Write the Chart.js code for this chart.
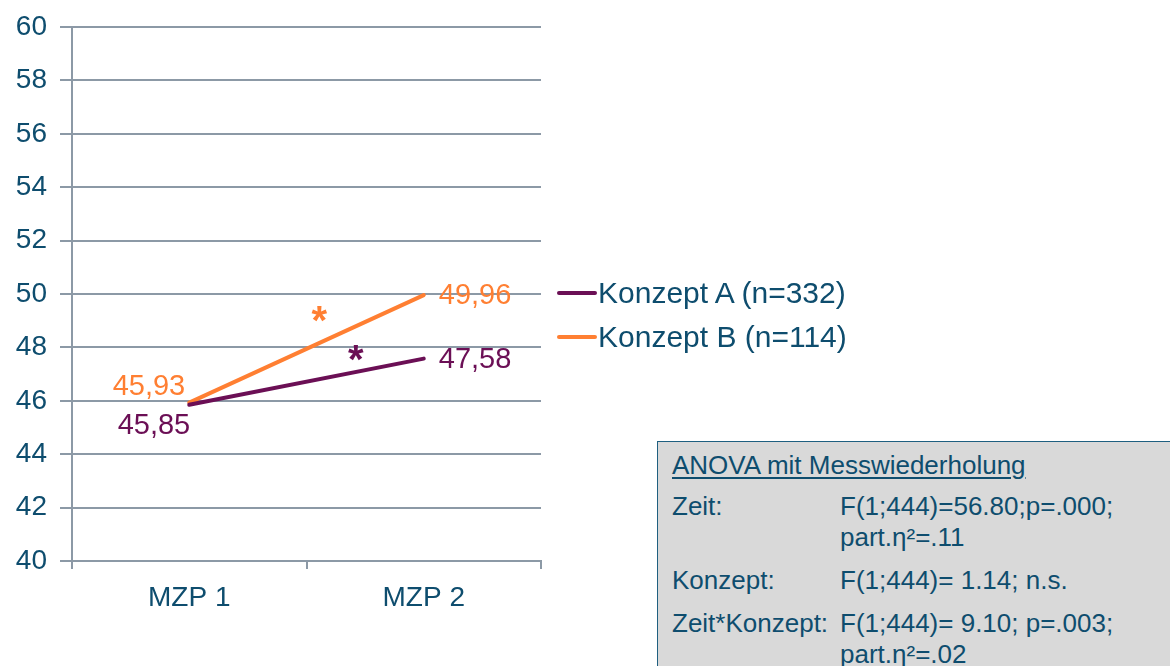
<!DOCTYPE html>
<html>
<head>
<meta charset="utf-8">
<script src="https://cdn.jsdelivr.net/npm/chart.js@4/dist/chart.umd.min.js"></script>
<style>
    html, body { margin: 0; padding: 0; background: #fff; }
    body { width: 1170px; height: 666px; position: relative; overflow: hidden; font-family: "Liberation Sans", Arial, sans-serif; }
    #wrap { position: absolute; left: 0; top: 0; width: 1170px; height: 666px; }
    .legend { position: absolute; left: 557px; color: #0e4d6e; font-size: 30px; line-height: 32px; white-space: nowrap; }
    .legend i { display: inline-block; width: 40px; height: 4px; border-radius: 2px; vertical-align: middle; margin-right: 1px; position: relative; top: -2px; }
    .anova { position: absolute; left: 657px; top: 441px; width: 530px; height: 240px; background: #d9d9d9; border: 1.5px solid #1f5f80; box-sizing: border-box; color: #0e4d6e; font-size: 26px; }
    .anova .t { position: absolute; left: 14px; top: 8px; text-decoration: underline; text-underline-offset: 3px; }
    .anova .r { position: absolute; left: 14px; line-height: 31px; }
    .anova .v { position: absolute; left: 182px; line-height: 31px; }
</style>
</head>
<body>
<div id="wrap"><canvas id="c" width="1170" height="666"></canvas></div>
<div id="legend"></div>
<div class="anova">
    <div class="t">ANOVA mit Messwiederholung</div>
    <div class="r" style="top:49px">Zeit:</div>
    <div class="v" style="top:49px">F(1;444)=56.80;p=.000;<br>part.η²=.11</div>
    <div class="r" style="top:123px">Konzept:</div>
    <div class="v" style="top:123px">F(1;444)= 1.14; n.s.</div>
    <div class="r" style="top:166px">Zeit*Konzept:</div>
    <div class="v" style="top:166px">F(1;444)= 9.10; p=.003;<br>part.η²=.02</div>
</div>
<script>
    var categories = ['MZP 1', 'MZP 2'];
    var seriesNames = ['Konzept A (n=332)', 'Konzept B (n=114)'];
    var konzeptA = [45.85, 47.58];
    var konzeptB = [45.93, 49.96];
    var colors = ['#6b0f55', '#ff7f32'];
    var yTicks = [40, 42, 44, 46, 48, 50, 52, 54, 56, 58, 60];

    var textBlue = '#0e4d6e';
    var gridGray = '#8c99a6';
    var font = '"Liberation Sans", Arial, sans-serif';

    function fmt(v) { return v.toFixed(2).replace('.', ','); }

    // value labels and significance stars
    var labelPlugin = {
        id: 'labels',
        afterDatasetsDraw: function (chart) {
            var ctx = chart.ctx;
            var xs = chart.scales.x, ys = chart.scales.y;
            ctx.save();
            ctx.font = '29px ' + font;
            ctx.textBaseline = 'middle';

            var x0 = xs.getPixelForValue(0), x1 = xs.getPixelForValue(1);
            // first point labels
            ctx.textAlign = 'right';
            ctx.fillStyle = colors[1];
            ctx.fillText(fmt(konzeptB[0]), x0 - 4, ys.getPixelForValue(konzeptB[0]) - 16);
            ctx.fillStyle = colors[0];
            ctx.fillText(fmt(konzeptA[0]), x0 + 1, ys.getPixelForValue(konzeptA[0]) + 21);
            // second point labels
            ctx.textAlign = 'left';
            ctx.fillStyle = colors[1];
            ctx.fillText(fmt(konzeptB[1]), x1 + 15, ys.getPixelForValue(konzeptB[1]) + 1);
            ctx.fillStyle = colors[0];
            ctx.fillText(fmt(konzeptA[1]), x1 + 15, ys.getPixelForValue(konzeptA[1]) + 1);

            // stars
            ctx.textAlign = 'center';
            ctx.font = 'bold 40px ' + font;
            ctx.fillStyle = colors[1];
            ctx.fillText('*', x0 + (x1 - x0) * 0.555, ys.getPixelForValue(48.6) - 8);
            ctx.fillStyle = colors[0];
            ctx.fillText('*', x0 + (x1 - x0) * 0.71, ys.getPixelForValue(47.15) - 8);
            ctx.restore();
        }
    };

    var datasets = [konzeptA, konzeptB].map(function (d, i) {
        return {
            label: seriesNames[i],
            data: d,
            borderColor: colors[i],
            backgroundColor: colors[i],
            borderWidth: 4,
            pointRadius: 0,
            tension: 0,
            borderCapStyle: 'round'
        };
    });

    new Chart(document.getElementById('c'), {
        type: 'line',
        data: { labels: categories, datasets: datasets },
        plugins: [labelPlugin],
        options: {
            responsive: false,
            animation: false,
            layout: { padding: { top: 27, right: 629, left: 0, bottom: 0 } },
            plugins: { legend: { display: false }, tooltip: { enabled: false } },
            scales: {
                x: {
                    offset: true,
                    grid: { offset: true, drawOnChartArea: false, color: gridGray, lineWidth: 2, tickLength: 8 },
                    border: { color: gridGray, width: 2 },
                    ticks: { color: textBlue, font: { size: 28, family: font }, padding: 12 },
                    afterFit: function (s) { s.height = 105; }
                },
                y: {
                    min: 40,
                    max: 60,
                    afterBuildTicks: function (s) { s.ticks = yTicks.map(function (v) { return { value: v }; }); },
                    grid: { color: gridGray, lineWidth: 2, tickLength: 12 },
                    border: { color: gridGray, width: 2 },
                    ticks: { color: textBlue, font: { size: 28, family: font, lineHeight: 1 }, padding: 13 },
                    afterFit: function (s) { s.width = 72; s.paddingTop = 0; s.paddingBottom = 0; }
                }
            }
        }
    });

    // legend
    var legendTops = [277, 321];
    document.getElementById('legend').innerHTML = seriesNames.map(function (n, i) {
        return '<div class="legend" style="top:' + legendTops[i] + 'px"><i style="background:' + colors[i] + '"></i>' + n + '</div>';
    }).join('');
</script>
</body>
</html>
